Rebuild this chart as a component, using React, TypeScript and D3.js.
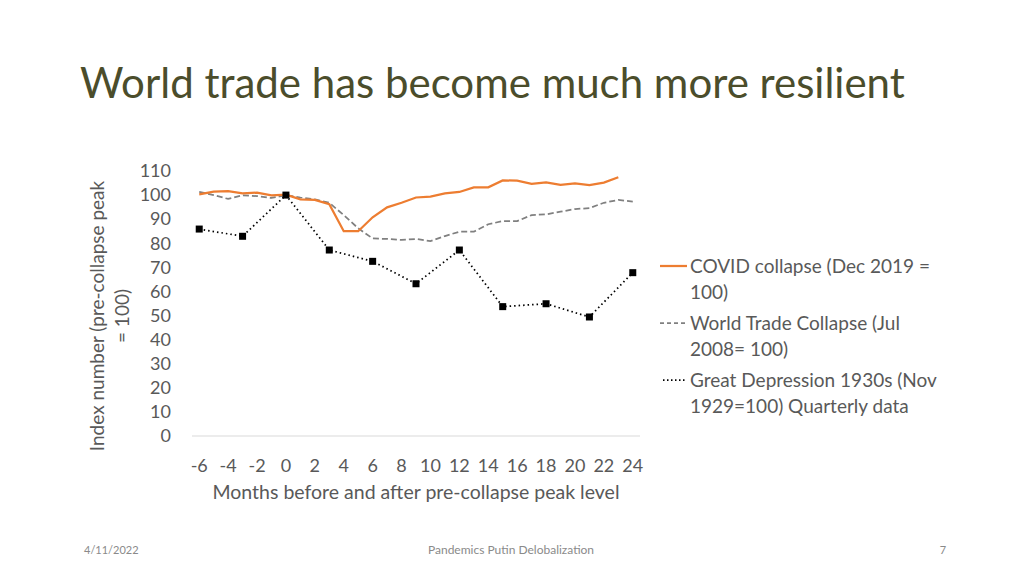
import React from "react";
import * as d3 from "d3";

// months before/after peak (category axis)
const months = d3.range(-6, 25);
const xTickLabels = months.filter((m) => m % 2 === 0);
const yTicks = [0, 10, 20, 30, 40, 50, 60, 70, 80, 90, 100, 110];

// COVID collapse, monthly -6..23
const covid = [
  100.3, 101.4, 101.6, 100.7, 101, 99.9, 100.2, 98.2, 98, 96.2, 85, 85, 90.8, 94.9,
  96.8, 99, 99.4, 100.7, 101.3, 103.2, 103.2, 106.1, 106, 104.7, 105.3, 104.2, 104.9,
  104.1, 105.2, 107.4,
];
// World trade collapse, monthly -6..24
const wtc = [
  101.3, 100, 98.4, 99.9, 99.6, 98.8, 100, 99, 98.2, 96.8, 91.7, 86.2, 82, 81.8, 81.4,
  81.8, 80.9, 83, 84.8, 84.8, 87.9, 89.2, 89.2, 91.7, 92, 93.1, 94.2, 94.6, 96.8, 98,
  97.3,
];
// Great depression, quarterly
const gdMonths = [-6, -3, 0, 3, 6, 9, 12, 15, 18, 21, 24];
const gd = [85.9, 82.9, 100, 77.2, 72.5, 63.2, 77.2, 53.7, 54.9, 49.4, 67.8];

const legendItems = [
  { lines: ["COVID collapse (Dec 2019 =", "100)"], stroke: "#ED7D31", dash: "", width: 2.25 },
  { lines: ["World Trade Collapse (Jul", "2008= 100)"], stroke: "#808080", dash: "4,3", width: 1.75 },
  { lines: ["Great Depression 1930s (Nov", "1929=100) Quarterly data"], stroke: "#000000", dash: "1.5,2.5", width: 1.75 },
];

const FONT = "Lato, 'Open Sans', sans-serif";

export default function App() {
  const W = 1024;
  const H = 576;
  const plot = { left: 192, right: 640, top: 171, bottom: 436 };

  const x = d3
    .scaleBand<number>()
    .domain(months)
    .range([plot.left, plot.right]);
  const cx = (m: number) => (x(m) as number) + x.bandwidth() / 2;
  const y = d3.scaleLinear().domain([0, 110]).range([plot.bottom, plot.top]);

  const line = d3
    .line<[number, number]>()
    .x((d) => cx(d[0]))
    .y((d) => y(d[1]));

  const covidPts = covid.map((v, i) => [months[i], v] as [number, number]);
  const wtcPts = wtc.map((v, i) => [months[i], v] as [number, number]);
  const gdPts = gd.map((v, i) => [gdMonths[i], v] as [number, number]);

  return (
    <svg width={W} height={H} style={{ position: "absolute", left: 0, top: 0, background: "#fff" }}>
      <text x={80} y={98} fontFamily={FONT} fontSize={42} fill="#4b4d2b">
        World trade has become much more resilient
      </text>

      {/* y axis ticks */}
      {yTicks.map((t) => (
        <text
          key={t}
          x={171}
          y={y(t)}
          dy="0.35em"
          textAnchor="end"
          fontFamily={FONT}
          fontSize={18}
          fill="#595959"
        >
          {t}
        </text>
      ))}
      <g transform="translate(104,316) rotate(-90)" fontFamily={FONT} fontSize={19} fill="#595959">
        <text x={0} y={0} textAnchor="middle">Index number (pre-collapse peak</text>
        <text x={0} y={25} textAnchor="middle">= 100)</text>
      </g>

      {/* x axis */}
      <line x1={plot.left} x2={plot.right} y1={plot.bottom} y2={plot.bottom} stroke="#d9d9d9" strokeWidth={1} />
      {xTickLabels.map((m) => (
        <text
          key={m}
          x={cx(m)}
          y={472}
          textAnchor="middle"
          fontFamily={FONT}
          fontSize={18}
          fill="#595959"
        >
          {m}
        </text>
      ))}
      <text x={416} y={499} textAnchor="middle" fontFamily={FONT} fontSize={19.5} fill="#595959">
        Months before and after pre-collapse peak level
      </text>

      {/* series */}
      <path d={line(wtcPts) ?? ""} fill="none" stroke="#808080" strokeWidth={1.75} strokeDasharray="6,3" />
      <path d={line(gdPts) ?? ""} fill="none" stroke="#000" strokeWidth={1.75} strokeDasharray="1.5,3" />
      <path d={line(covidPts) ?? ""} fill="none" stroke="#ED7D31" strokeWidth={2.25} />
      {gdPts.map((d, i) => (
        <rect key={i} x={cx(d[0]) - 3.5} y={y(d[1]) - 3.5} width={7} height={7} fill="#000" />
      ))}

      {/* legend */}
      {legendItems.map((item, i) => {
        const top = 266 + i * 57;
        return (
          <g key={i}>
            <line
              x1={item.stroke === "#000000" ? 663 : 660}
              x2={687}
              y1={top}
              y2={top}
              stroke={item.stroke}
              strokeWidth={item.width}
              strokeDasharray={item.dash}
            />
            {item.lines.map((l, j) => (
              <text
                key={j}
                x={690}
                y={top + j * 26}
                dy="0.35em"
                fontFamily={FONT}
                fontSize={19}
                fill="#595959"
              >
                {l}
              </text>
            ))}
          </g>
        );
      })}

      {/* footer */}
      <text x={84} y={554} fontFamily={FONT} fontSize={11} fill="#8a8a8a">4/11/2022</text>
      <text x={511} y={554} textAnchor="middle" fontFamily={FONT} fontSize={12} fill="#8a8a8a">
        Pandemics Putin Delobalization
      </text>
      <text x={943} y={554} textAnchor="middle" fontFamily={FONT} fontSize={11} fill="#8a8a8a">7</text>
    </svg>
  );
}
